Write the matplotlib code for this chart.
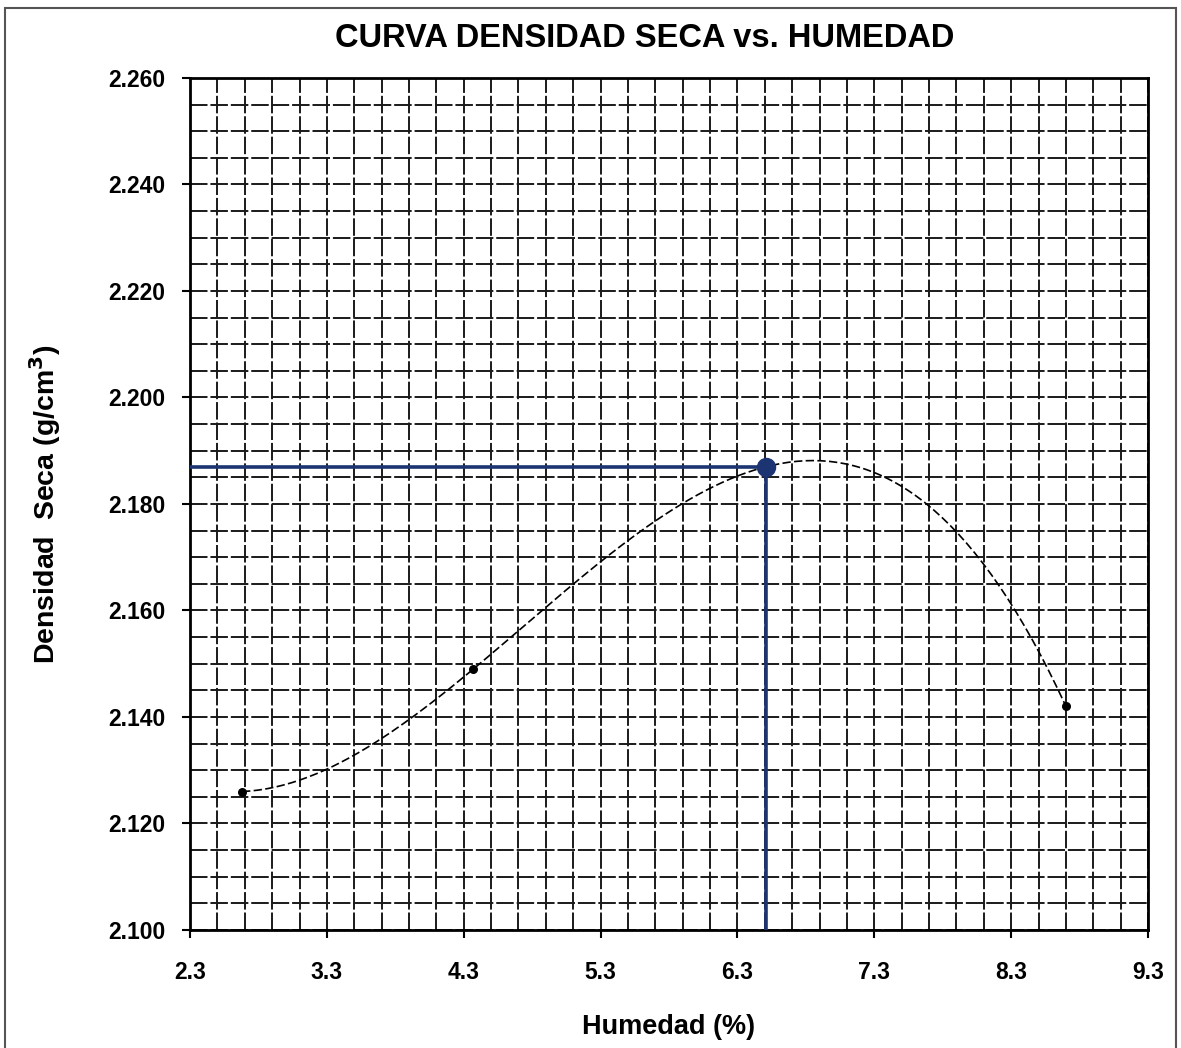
import numpy as np
import matplotlib.pyplot as plt
from matplotlib import ticker
from matplotlib.patches import Rectangle

# Ensayo Proctor: humedad (%) y densidad seca (g/cm3)
humedad = [2.68, 4.37, 6.51, 8.70]
densidad = [2.126, 2.149, 2.187, 2.142]

# optimo contenido de humedad / maxima densidad seca
och = 6.51
mds = 2.187

x_ticks = [2.3, 3.3, 4.3, 5.3, 6.3, 7.3, 8.3, 9.3]
y_ticks = [2.100, 2.120, 2.140, 2.160, 2.180, 2.200, 2.220, 2.240, 2.260]

plt.rcParams['font.family'] = ['Liberation Sans', 'DejaVu Sans']
plt.rcParams['font.weight'] = 'bold'

fig = plt.figure(figsize=(11.81, 10.48), dpi=100)
ax = fig.add_axes([0.1609, 0.1126, 0.8112, 0.8130])

# linea de tendencia polinomica de orden 3
coef = np.polyfit(humedad, densidad, 3)
xs = np.linspace(min(humedad), max(humedad), 200)
ax.plot(xs, np.polyval(coef, xs), color='black', lw=1.2, ls=(0, (5, 2)), zorder=4)
ax.scatter(humedad, densidad, s=30, color='black', zorder=5)

# lineas al punto optimo
navy = '#1c3472'
ax.plot([x_ticks[0], och], [mds, mds], color=navy, lw=2.6, zorder=6)
ax.plot([och, och], [y_ticks[0], mds], color=navy, lw=2.6, zorder=6)
ax.plot([och], [mds], marker='o', ms=13, color=navy, zorder=7)

ax.set_xlim(x_ticks[0], x_ticks[-1])
ax.set_ylim(y_ticks[0], y_ticks[-1])
ax.set_xticks(x_ticks)
ax.set_yticks(y_ticks)
ax.xaxis.set_minor_locator(ticker.MultipleLocator(0.2, offset=0.1))
ax.yaxis.set_minor_locator(ticker.MultipleLocator(0.005))
ax.yaxis.set_major_formatter(ticker.FormatStrFormatter('%.3f'))
ax.xaxis.set_major_formatter(ticker.FormatStrFormatter('%.1f'))

ax.grid(True, which='both', color='#1a1a1a', lw=1.4, ls=(0, (9, 1.5)))
ax.set_axisbelow(True)
for s in ax.spines.values():
    s.set_linewidth(2)
ax.tick_params(which='major', direction='out', length=6, width=1.5,
               labelsize=16.5, pad=16)
ax.tick_params(which='minor', length=0)
ax.tick_params(axis='y', pad=12)

ax.set_xlabel('Humedad (%)', fontsize=19.5, fontweight='bold', labelpad=22)
ax.set_ylabel('Densidad  Seca (g/cm$^\\mathbf{3}$)', fontsize=20.5, fontweight='bold',
              labelpad=32)
fig.text(0.546, 0.963, 'CURVA DENSIDAD SECA vs. HUMEDAD', ha='center', va='center',
         fontsize=23.5, fontweight='bold')

# marco exterior
fig.patches.append(Rectangle((0.004, -0.01), 0.992, 1.002, transform=fig.transFigure,
                             fill=False, edgecolor='#555555', lw=1.5))

fig.savefig('out.png', dpi=100)
